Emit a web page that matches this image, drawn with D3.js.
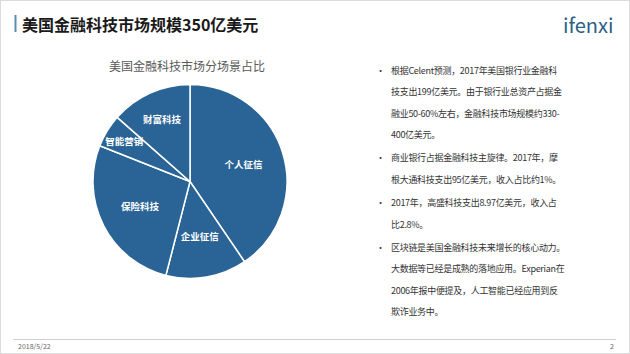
<!DOCTYPE html>
<html><head><meta charset="utf-8">
<script src="https://cdn.jsdelivr.net/npm/d3@7"></script>
<style>
html,body{margin:0;padding:0;background:#fff;}
svg{display:block;}
text{font-family:"Noto Sans CJK SC","Noto Sans",sans-serif;}
</style></head>
<body>
<svg id="c" width="630" height="354"></svg>
<script>
const categories = ["个人征信","企业征信","保险科技","智能营销","财富科技"];
const shares = [40.5, 13.5, 27, 5.5, 13.5];
const pageTitle = "美国金融科技市场规模350亿美元";
const chartTitle = "美国金融科技市场分场景占比";
const bullets = [
  ["根据Celent预测，2017年美国银行业金融科","技支出199亿美元。由于银行业总资产占据金","融业50-60%左右，金融科技市场规模约330-","400亿美元。"],
  ["商业银行占据金融科技主旋律。2017年，摩","根大通科技支出95亿美元，收入占比约1%。"],
  ["2017年，高盛科技支出8.97亿美元，收入占","比2.8%。"],
  ["区块链是美国金融科技未来增长的核心动力。","大数据等已经是成熟的落地应用。Experian在","2006年报中便提及，人工智能已经应用到反","欺诈业务中。"]
];
const footerDate = "2018/5/22";
const pageNo = "2";

const svg = d3.select("#c");
svg.append("rect").attr("x",0.5).attr("y",0.5).attr("width",629).attr("height",353)
  .attr("fill","#fff").attr("stroke","#dcdcdc");

// header
svg.append("rect").attr("x",14.5).attr("y",15).attr("width",2).attr("height",17).attr("fill","#5b8db3");
svg.append("text").attr("x",22).attr("y",30.5).attr("font-size",16).attr("font-weight","bold")
  .attr("fill","#1a1a1a").text(pageTitle);
svg.append("text").attr("x",563).attr("y",32.5).attr("font-size",20)
  .attr("font-family","'Open Sans',sans-serif").attr("fill","#2b5f86").text("ifenxi");

// pie
const cx = 190, cy = 181.5, R = 97;
const g = svg.append("g").attr("transform",`translate(${cx},${cy})`);
const pie = d3.pie().sort(null).value(d=>d.v);
const data = pie(categories.map((c,i)=>({c, v:shares[i]})));
const arc = d3.arc().innerRadius(0).outerRadius(R);
g.selectAll("path").data(data).join("path")
  .attr("d",arc).attr("fill","#2a6496").attr("stroke","#fff").attr("stroke-width",1.5);
const labelR = {"智能营销":77, "财富科技":68};
g.selectAll("text.lbl").data(data).join("text").attr("class","lbl")
  .attr("transform",d=>{
    const r = labelR[d.data.c] || 56;
    const a = (d.startAngle+d.endAngle)/2;
    return `translate(${r*Math.sin(a)},${-r*Math.cos(a)})`;
  })
  .attr("text-anchor","middle").attr("dy","0.35em")
  .attr("font-size",9.5).attr("font-weight","bold").attr("fill","#fff")
  .text(d=>d.data.c);

svg.append("text").attr("x",187).attr("y",71).attr("text-anchor","middle")
  .attr("font-size",12).attr("fill","#595959").text(chartTitle);

// bullets
let y = 73.5;
const lh = 21.6;
const tg = svg.append("g");
bullets.forEach(par=>{
  tg.append("text").attr("x",376).attr("y",y).attr("font-size",9).attr("fill","#333").text("•");
  par.forEach(line=>{
    tg.append("text").attr("x",391).attr("y",y).attr("font-size",9)
      .attr("letter-spacing",-0.3).attr("fill","#333").text(line);
    y += lh;
  });
  y += 1.4;
});

// footer
svg.append("line").attr("x1",13).attr("x2",616).attr("y1",339.5).attr("y2",339.5)
  .attr("stroke","#cfcfcf").attr("stroke-width",1.2);
svg.append("text").attr("x",18).attr("y",349).attr("font-size",7).attr("fill","#666").text(footerDate);
svg.append("text").attr("x",610).attr("y",349).attr("font-size",7).attr("fill","#666").text(pageNo);
</script>
</body></html>
